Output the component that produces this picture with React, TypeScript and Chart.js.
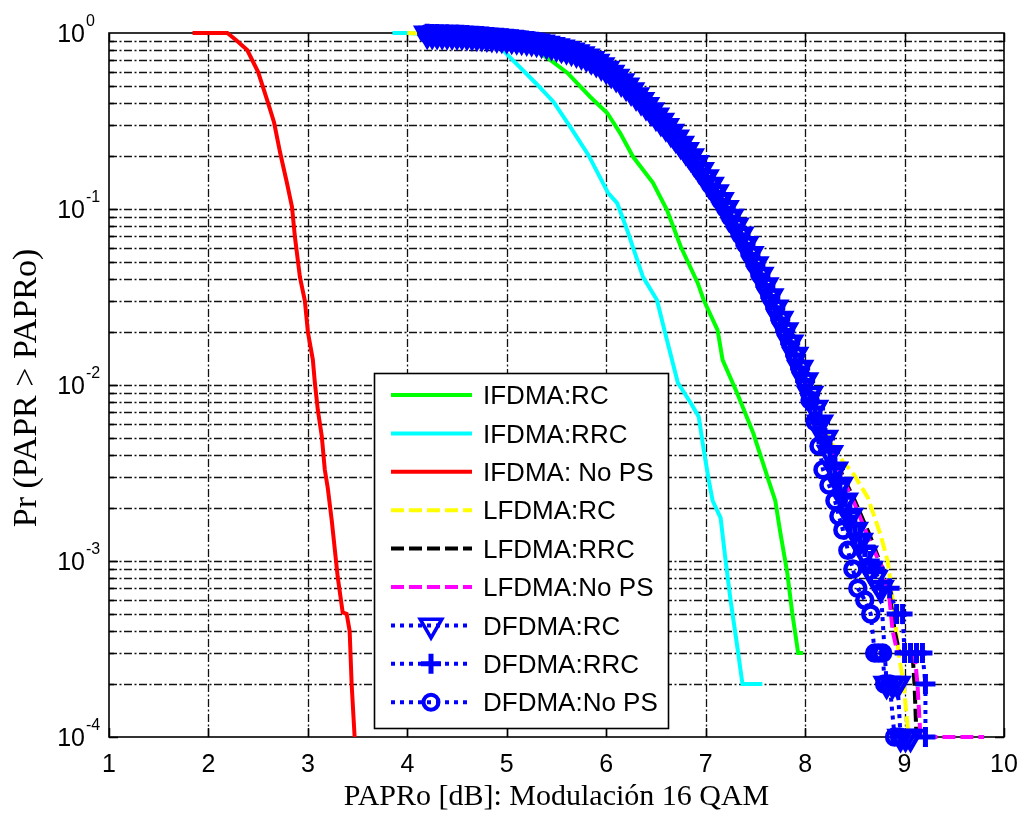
import React, { useEffect, useRef } from "react";
import { Chart, registerables } from "chart.js";

Chart.register(...registerables);

// ---------- axis / tick data ----------
const xTicks = [1, 2, 3, 4, 5, 6, 7, 8, 9, 10];
const yTickExps = [0, -1, -2, -3, -4];
const minorMults = [1, 2, 3, 4, 5, 6, 7, 8, 9];

const legendLabels = [
  "IFDMA:RC",
  "IFDMA:RRC",
  "IFDMA: No PS",
  "LFDMA:RC",
  "LFDMA:RRC",
  "LFDMA:No PS",
  "DFDMA:RC",
  "DFDMA:RRC",
  "DFDMA:No PS",
];

const xTitle = "PAPRo [dB]: Modulación 16 QAM";
const yTitle = "Pr (PAPR > PAPRo)";

// ---------- series values ----------
const ifdmaRcX = [4.1, 4.6, 5.0, 5.24, 5.41, 5.61, 5.84, 6.01, 6.14, 6.27, 6.47, 6.61, 6.75, 6.92, 6.98, 7.12, 7.17, 7.32, 7.48, 7.63, 7.7, 7.75, 7.82, 7.87, 7.93, 7.98];
const ifdmaRcY = [1, 0.97, 0.9, 0.833, 0.721, 0.593, 0.433, 0.351, 0.27, 0.198, 0.141, 0.099, 0.061, 0.038, 0.0304, 0.0205, 0.0139, 0.0089, 0.0053, 0.0029, 0.0022, 0.00146, 0.00086, 0.00051, 0.0003, 0.0003];

const ifdmaRrcX = [3.85, 4.0, 4.5, 4.93, 5.06, 5.29, 5.47, 5.64, 5.82, 6.02, 6.11, 6.21, 6.37, 6.51, 6.59, 6.72, 6.85, 6.93, 6.98, 7.03, 7.07, 7.15, 7.2, 7.25, 7.32, 7.37, 7.57];
const ifdmaRrcY = [1, 1, 0.96, 0.833, 0.702, 0.52, 0.406, 0.292, 0.203, 0.123, 0.108, 0.076, 0.041, 0.0304, 0.02, 0.0103, 0.0079, 0.0066, 0.0043, 0.0029, 0.0022, 0.00176, 0.00101, 0.0006, 0.00032, 0.0002, 0.0002];

const ifdmaNoPsX = [1.84, 2.19, 2.28, 2.39, 2.5, 2.55, 2.6, 2.66, 2.72, 2.79, 2.84, 2.87, 2.92, 2.97, 3.0, 3.05, 3.07, 3.1, 3.14, 3.17, 3.2, 3.24, 3.3, 3.35, 3.39, 3.42, 3.44, 3.47];
const ifdmaNoPsY = [1, 1, 0.91, 0.8, 0.6, 0.49, 0.4, 0.31, 0.21, 0.14, 0.103, 0.069, 0.041, 0.03, 0.02, 0.0139, 0.0103, 0.0072, 0.0051, 0.0033, 0.0026, 0.0017, 0.00081, 0.00051, 0.0005, 0.0004, 0.0002, 0.0001];

// shared upper part of the LFDMA / DFDMA curves (they overlap in the picture)
const mainX = [
  4.2, 4.25, 4.3, 4.35, 4.4, 4.45, 4.5, 4.55, 4.6, 4.65, 4.7, 4.75, 4.8, 4.85, 4.9, 4.95, 5.0,
  5.05, 5.1, 5.15, 5.2, 5.25, 5.3, 5.35, 5.4, 5.45, 5.5, 5.55, 5.6, 5.65, 5.7, 5.75, 5.8, 5.85, 5.9, 5.95, 6.0,
  6.05, 6.1, 6.15, 6.2, 6.25, 6.3, 6.35, 6.4, 6.45, 6.5, 6.55, 6.6, 6.65, 6.7, 6.75, 6.8, 6.85, 6.9, 6.95, 7.0,
  7.05, 7.1, 7.15, 7.2, 7.25, 7.3, 7.35, 7.4, 7.45, 7.5, 7.55, 7.6, 7.65, 7.7, 7.75, 7.8, 7.85, 7.9, 7.95, 8.0,
];
const mainY = [
  0.989, 0.988, 0.986, 0.985, 0.984, 0.981, 0.979, 0.976, 0.973, 0.969, 0.964, 0.96, 0.955, 0.95, 0.944, 0.939, 0.933,
  0.927, 0.92, 0.914, 0.908, 0.9, 0.891, 0.879, 0.867, 0.853, 0.839, 0.824, 0.809, 0.793, 0.776, 0.755, 0.733, 0.709, 0.684, 0.654, 0.624,
  0.593, 0.562, 0.531, 0.501, 0.471, 0.442, 0.415, 0.389, 0.363, 0.339, 0.316, 0.295, 0.274, 0.254, 0.234, 0.216, 0.199, 0.182, 0.166, 0.151,
  0.137, 0.124, 0.112, 0.101, 0.09, 0.0804, 0.0713, 0.0631, 0.0553, 0.0484, 0.0422, 0.0367, 0.0318, 0.0275, 0.0237, 0.0204, 0.0174, 0.0148, 0.0125, 0.0106,
];

const lfdmaRcHeadX = [4.0];
const lfdmaRcHeadY = [1];
const lfdmaRcTailX = [8.1, 8.2, 8.36, 8.49, 8.63, 8.76, 8.83, 8.89, 8.94, 8.99, 9.04];
const lfdmaRcTailY = [0.0075, 0.0055, 0.0038, 0.0031, 0.0023, 0.0014, 0.001, 0.00055, 0.0003, 0.0002, 0.0001];

const lfdmaRrcTailX = [8.1, 8.2, 8.35, 8.5, 8.65, 8.78, 8.86, 8.9, 8.95, 9.08, 9.1, 9.12];
const lfdmaRrcTailY = [0.0074, 0.0052, 0.0033, 0.0022, 0.0014, 0.0009, 0.0006, 0.0004, 0.0003, 0.0003, 0.0002, 0.0001];

const lfdmaNoPsTailX = [8.1, 8.2, 8.35, 8.5, 8.65, 8.78, 8.85, 8.88, 8.93, 9.1, 9.13, 9.16, 9.8];
const lfdmaNoPsTailY = [0.0073, 0.005, 0.0032, 0.0021, 0.0013, 0.0009, 0.0006, 0.0004, 0.0003, 0.0003, 0.0002, 0.0001, 0.0001];

const dfdmaRcTailX = [8.05, 8.1, 8.15, 8.2, 8.25, 8.3, 8.35, 8.4, 8.45, 8.5, 8.55, 8.6, 8.65, 8.7, 8.76, 8.82, 8.88, 8.93, 8.96, 9.01, 9.06];
const dfdmaRcTailY = [0.0089, 0.0074, 0.0061, 0.005, 0.0041, 0.0033, 0.0027, 0.0022, 0.0018, 0.0015, 0.0013, 0.0011, 0.0009, 0.0008, 0.0007, 0.0002, 0.0002, 0.0002, 0.0001, 0.0001, 0.0001];

const dfdmaRrcTailX = [8.05, 8.1, 8.15, 8.2, 8.25, 8.3, 8.35, 8.4, 8.45, 8.5, 8.55, 8.6, 8.65, 8.7, 8.77, 8.85, 8.92, 8.98, 9.0, 9.06, 9.12, 9.18, 9.21, 9.21];
const dfdmaRrcTailY = [0.0089, 0.0074, 0.0062, 0.005, 0.0042, 0.0034, 0.0028, 0.0023, 0.0019, 0.0016, 0.0014, 0.0012, 0.001, 0.0009, 0.0007, 0.0007, 0.0005, 0.0005, 0.0003, 0.0003, 0.0003, 0.0003, 0.0002, 0.0001];

const dfdmaNoPsTailX = [8.05, 8.1, 8.14, 8.18, 8.24, 8.3, 8.34, 8.38, 8.43, 8.48, 8.53, 8.6, 8.66, 8.7, 8.74, 8.78, 8.8, 8.85, 8.9, 8.95];
const dfdmaNoPsTailY = [0.0082, 0.0062, 0.0045, 0.0033, 0.0027, 0.0022, 0.0018, 0.0015, 0.00115, 0.0009, 0.0007, 0.0006, 0.0005, 0.0003, 0.0003, 0.0003, 0.0002, 0.0002, 0.0001, 0.0001];

// ---------- helpers ----------
const zip = (xs: number[], ys: number[]) => xs.map((x, i) => ({ x, y: ys[i] }));

const FONT_SANS = '"Liberation Sans", Arial, Helvetica, sans-serif';
const FONT_SERIF = '"Liberation Serif", "Times New Roman", Times, serif';

const GREEN = "#00ff00";
const CYAN = "#00ffff";
const RED = "#ff0000";
const YELLOW = "#ffff00";
const BLACK = "#000000";
const MAGENTA = "#ff00ff";
const BLUE = "#0000ff";

const LINE_W = 4;
const DASH = [13, 5];
const DOT = [4, 5];

type Mk = { style: string; r: number; bw: number };
const MARK_TRI: Mk = { style: "triangle", r: 12, bw: 4.5 };
const MARK_PLUS: Mk = { style: "cross", r: 10, bw: 5 };
const MARK_CIRC: Mk = { style: "circle", r: 7.5, bw: 4.5 };
// legend samples use a slightly thinner outline, as in the picture
const LEG_TRI: Mk = { style: "triangle", r: 12.5, bw: 3.5 };
const LEG_PLUS: Mk = { style: "cross", r: 10, bw: 5 };
const LEG_CIRC: Mk = { style: "circle", r: 7.5, bw: 4 };

function drawMarker(ctx: CanvasRenderingContext2D, mk: Mk, cx: number, cy: number, color: string) {
  ctx.save();
  ctx.setLineDash([]);
  ctx.strokeStyle = color;
  ctx.lineWidth = mk.bw;
  ctx.beginPath();
  if (mk.style === "triangle") {
    const s = Math.sin(Math.PI / 3) * mk.r;
    ctx.moveTo(cx, cy + mk.r);
    ctx.lineTo(cx - s, cy - mk.r / 2);
    ctx.lineTo(cx + s, cy - mk.r / 2);
    ctx.closePath();
  } else if (mk.style === "cross") {
    ctx.moveTo(cx, cy - mk.r);
    ctx.lineTo(cx, cy + mk.r);
    ctx.moveTo(cx - mk.r, cy);
    ctx.lineTo(cx + mk.r, cy);
  } else {
    ctx.arc(cx, cy, mk.r, 0, Math.PI * 2);
  }
  ctx.stroke();
  ctx.restore();
}

const legendStyles: { color: string; dash: number[]; mk?: Mk }[] = [
  { color: GREEN, dash: [] },
  { color: CYAN, dash: [] },
  { color: RED, dash: [] },
  { color: YELLOW, dash: DASH },
  { color: BLACK, dash: DASH },
  { color: MAGENTA, dash: DASH },
  { color: BLUE, dash: DOT, mk: LEG_TRI },
  { color: BLUE, dash: DOT, mk: LEG_PLUS },
  { color: BLUE, dash: DOT, mk: LEG_CIRC },
];

const matlabPlugin = {
  id: "matlabLook",
  beforeDatasetsDraw(chart: any) {
    const { ctx, chartArea } = chart;
    const { left, right, top, bottom } = chartArea;
    const xs = chart.scales.x;
    const ys = chart.scales.y;
    ctx.save();
    // grid lines (dash-dot)
    ctx.strokeStyle = "#111";
    ctx.lineWidth = 1.3;
    ctx.setLineDash([8, 2.5, 2, 2.5]);
    for (const v of xTicks) {
      if (v === xTicks[0] || v === xTicks[xTicks.length - 1]) continue;
      const px = Math.round(xs.getPixelForValue(v)) + 0.5;
      ctx.beginPath();
      ctx.moveTo(px, bottom);
      ctx.lineTo(px, top);
      ctx.stroke();
    }
    const yMinorVals: number[] = [];
    for (const e of yTickExps) {
      if (e === 0) continue;
      for (const m of minorMults) yMinorVals.push(m * Math.pow(10, e));
    }
    for (const v of yMinorVals) {
      if (Math.abs(v - 1e-4) < 1e-9) continue;
      const py = Math.round(ys.getPixelForValue(v)) + 0.5;
      ctx.beginPath();
      ctx.moveTo(left, py);
      ctx.lineTo(right, py);
      ctx.stroke();
    }
    ctx.setLineDash([]);
    // inward ticks
    ctx.lineWidth = 1.5;
    ctx.strokeStyle = "#000";
    for (const v of xTicks) {
      const px = Math.round(xs.getPixelForValue(v)) + 0.5;
      ctx.beginPath();
      ctx.moveTo(px, bottom);
      ctx.lineTo(px, bottom - 9);
      ctx.moveTo(px, top);
      ctx.lineTo(px, top + 9);
      ctx.stroke();
    }
    for (const v of yMinorVals) {
      const py = Math.round(ys.getPixelForValue(v)) + 0.5;
      const isMajor = Math.abs(Math.log10(v) - Math.round(Math.log10(v))) < 1e-9;
      const len = isMajor ? 9 : 5;
      ctx.beginPath();
      ctx.moveTo(left, py);
      ctx.lineTo(left + len, py);
      ctx.moveTo(right, py);
      ctx.lineTo(right - len, py);
      ctx.stroke();
    }
    // frame
    ctx.lineWidth = 1.6;
    ctx.strokeRect(left, top, right - left, bottom - top);
    ctx.restore();

    // tick labels & titles
    ctx.save();
    ctx.fillStyle = "#000";
    ctx.font = `25px ${FONT_SANS}`;
    ctx.textAlign = "center";
    ctx.textBaseline = "alphabetic";
    for (const v of xTicks) {
      const px = xs.getPixelForValue(v);
      ctx.fillText(String(v), px, bottom + 35);
    }
    for (const e of yTickExps) {
      const py = ys.getPixelForValue(Math.pow(10, e));
      ctx.font = `25px ${FONT_SANS}`;
      ctx.textAlign = "right";
      ctx.fillText("10", left - 24, py + 9);
      ctx.font = `16px ${FONT_SANS}`;
      ctx.textAlign = "left";
      ctx.fillText(String(e), left - 23, py - 7);
    }
    ctx.font = `30px ${FONT_SERIF}`;
    ctx.textAlign = "center";
    ctx.textBaseline = "middle";
    ctx.fillText(xTitle, (left + right) / 2, 797);
    ctx.translate(27, (top + bottom) / 2 + 3);
    ctx.rotate(-Math.PI / 2);
    ctx.font = `34px ${FONT_SERIF}`;
    ctx.fillText(yTitle, 0, 0);
    ctx.restore();
  },
  afterDatasetsDraw(chart: any) {
    const { ctx } = chart;
    ctx.save();
    const bx = 374, by = 373, bw = 294, bh = 355;
    ctx.fillStyle = "#fff";
    ctx.fillRect(bx, by, bw, bh);
    ctx.strokeStyle = "#000";
    ctx.lineWidth = 1.6;
    ctx.strokeRect(bx + 0.5, by + 0.5, bw, bh);
    const rowY0 = 395;
    const rowStep = 38.4;
    legendLabels.forEach((label, i) => {
      const cy = rowY0 + i * rowStep;
      const st = legendStyles[i];
      ctx.save();
      ctx.strokeStyle = st.color;
      ctx.lineWidth = LINE_W;
      ctx.setLineDash(st.dash);
      ctx.beginPath();
      ctx.moveTo(391, cy);
      ctx.lineTo(472, cy);
      ctx.stroke();
      ctx.restore();
      if (st.mk) drawMarker(ctx, st.mk, 431, cy, st.color);
      ctx.fillStyle = "#000";
      ctx.font = `26px ${FONT_SANS}`;
      ctx.textAlign = "left";
      ctx.textBaseline = "middle";
      ctx.fillText(label, 483, cy + 2);
    });
    ctx.restore();
  },
};

export default function App() {
  const canvasRef = useRef<HTMLCanvasElement | null>(null);

  useEffect(() => {
    if (!canvasRef.current) return;
    const lineDs = (label: string, data: any[], color: string, dash: number[], order: number) => ({
      label,
      data,
      borderColor: color,
      backgroundColor: color,
      borderWidth: LINE_W,
      borderDash: dash,
      pointRadius: 0,
      tension: 0,
      clip: false,
      order,
    });
    const markDs = (label: string, data: any[], mk: Mk, rotation: number, order: number) => ({
      label,
      data,
      borderColor: BLUE,
      backgroundColor: "rgba(0,0,0,0)",
      borderWidth: LINE_W,
      borderDash: DOT,
      pointStyle: mk.style,
      pointRadius: mk.r,
      pointBorderWidth: mk.bw,
      pointBorderColor: BLUE,
      pointBackgroundColor: "rgba(0,0,0,0)",
      pointRotation: rotation,
      tension: 0,
      clip: false,
      order,
    });

    const datasets = [
      lineDs(legendLabels[0], zip(ifdmaRcX, ifdmaRcY), GREEN, [], 9),
      lineDs(legendLabels[1], zip(ifdmaRrcX, ifdmaRrcY), CYAN, [], 8),
      lineDs(legendLabels[2], zip(ifdmaNoPsX, ifdmaNoPsY), RED, [], 7),
      lineDs(
        legendLabels[3],
        zip([...lfdmaRcHeadX, ...mainX, ...lfdmaRcTailX], [...lfdmaRcHeadY, ...mainY, ...lfdmaRcTailY]),
        YELLOW,
        DASH,
        6
      ),
      lineDs(legendLabels[4], zip([...mainX, ...lfdmaRrcTailX], [...mainY, ...lfdmaRrcTailY]), BLACK, DASH, 5),
      lineDs(legendLabels[5], zip([...mainX, ...lfdmaNoPsTailX], [...mainY, ...lfdmaNoPsTailY]), MAGENTA, DASH, 4),
      markDs(legendLabels[6], zip([...mainX, ...dfdmaRcTailX], [...mainY, ...dfdmaRcTailY]), MARK_TRI, 180, 3),
      markDs(legendLabels[7], zip([...mainX, ...dfdmaRrcTailX], [...mainY, ...dfdmaRrcTailY]), MARK_PLUS, 0, 2),
      markDs(legendLabels[8], zip([...mainX, ...dfdmaNoPsTailX], [...mainY, ...dfdmaNoPsTailY]), MARK_CIRC, 0, 1),
    ];

    const chart = new Chart(canvasRef.current, {
      type: "line",
      data: { datasets: datasets as any },
      options: {
        responsive: false,
        animation: false,
        events: [],
        parsing: true,
        layout: { padding: { left: 109, top: 33, right: 21, bottom: 77 } },
        plugins: { legend: { display: false }, tooltip: { enabled: false } },
        scales: {
          x: { type: "linear", min: 1, max: 10, display: false },
          y: { type: "logarithmic", min: 0.0001, max: 1, display: false },
        },
      },
      plugins: [matlabPlugin as any],
    });
    return () => chart.destroy();
  }, []);

  return (
    <div style={{ position: "absolute", left: 0, top: 0, width: 1025, height: 814, background: "#fff" }}>
      <canvas ref={canvasRef} width={1025} height={814} style={{ width: 1025, height: 814, display: "block" }} />
    </div>
  );
}
